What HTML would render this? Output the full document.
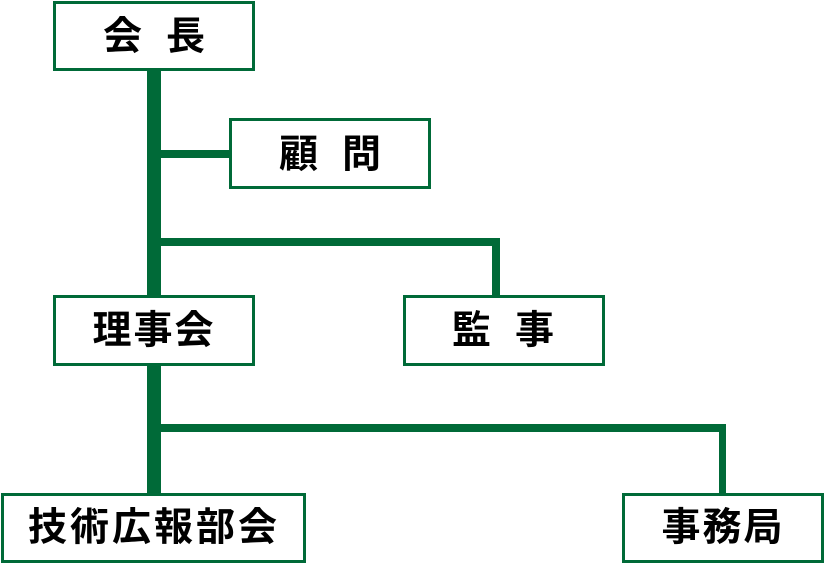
<!DOCTYPE html>
<html><head><meta charset="utf-8"><style>
html,body{margin:0;padding:0;background:#fff;}
svg{display:block}
text{font-family:"Liberation Sans","Noto Sans CJK JP",sans-serif;font-weight:bold;font-size:39px;fill:#000;text-anchor:middle;dominant-baseline:central}
</style></head><body>
<svg width="825" height="565" viewBox="0 0 825 565">
<g fill="#006a38">
<rect x="147" y="70" width="14" height="228"/>
<rect x="147" y="364" width="14" height="130"/>
<rect x="154" y="150" width="77" height="8"/>
<rect x="154" y="238" width="346" height="8"/>
<rect x="492" y="238" width="8" height="59"/>
<rect x="154" y="424" width="572" height="8"/>
<rect x="719" y="424" width="7" height="70"/>
</g>
<g fill="#fff" stroke="#006a38" stroke-width="3">
<rect x="54.5" y="2.5" width="199" height="67"/>
<rect x="230.5" y="119.5" width="199" height="68"/>
<rect x="54.5" y="296.5" width="199" height="68"/>
<rect x="404.5" y="296.5" width="199" height="68"/>
<rect x="2.5" y="494.5" width="302" height="67"/>
<rect x="623.5" y="494.5" width="199" height="67"/>
</g>
<text x="154" y="37" letter-spacing="24" dx="12">会長</text>
<text x="330" y="155" letter-spacing="24" dx="12">顧問</text>
<text x="154" y="331" letter-spacing="2">理事会</text>
<text x="503" y="331" letter-spacing="24" dx="12">監事</text>
<text x="154" y="528" letter-spacing="3">技術広報部会</text>
<text x="723" y="528" letter-spacing="2">事務局</text>
</svg>
</body></html>
